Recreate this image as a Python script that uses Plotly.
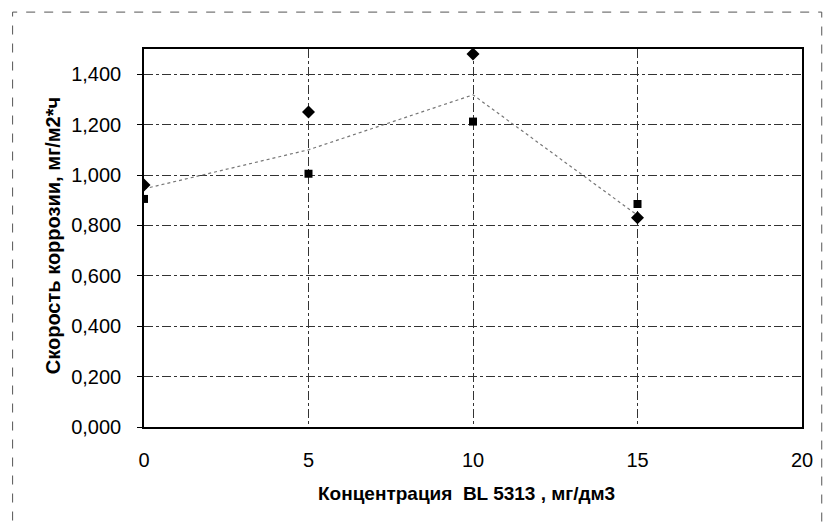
import plotly.graph_objects as go

conc = [0, 5, 10, 15]
series_a = [0.960, 1.250, 1.480, 0.830]   # diamonds
series_b = [0.905, 1.005, 1.212, 0.885]   # squares
trend = [0.945, 1.100, 1.318, 0.840]      # dotted line

y_ticks = [0, 0.2, 0.4, 0.6, 0.8, 1.0, 1.2, 1.4]
x_ticks = [0, 5, 10, 15, 20]

FONT = "Liberation Sans, Arial, sans-serif"

fig = go.Figure()
fig.add_trace(go.Scatter(x=conc, y=trend, mode="lines",
                         line=dict(color="#777777", width=1.2, dash="dot"),
                         showlegend=False))
fig.add_trace(go.Scatter(x=conc, y=series_b, mode="markers",
                         marker=dict(symbol="square", size=8, color="black"),
                         showlegend=False))
fig.add_trace(go.Scatter(x=conc, y=series_a, mode="markers",
                         marker=dict(symbol="diamond", size=10, color="black"),
                         showlegend=False))

fig.update_layout(
    width=825, height=523,
    margin=dict(l=144, r=12, t=49, b=96),
    paper_bgcolor="white", plot_bgcolor="white",
    separators=", ",
    font=dict(family=FONT, color="black"),
    xaxis=dict(range=[0, 20], tickvals=x_ticks, showgrid=True,
               gridcolor="#333333", griddash="dashdot", gridwidth=1,
               showline=True, linecolor="black", linewidth=1.5, mirror=True,
               ticks="", ticklabelstandoff=14, tickfont=dict(size=20),
               zeroline=False),
    yaxis=dict(range=[0, 1.5], tickvals=y_ticks, tickformat=".3f",
               showgrid=True, gridcolor="#333333", griddash="dashdot", gridwidth=1,
               showline=True, linecolor="black", linewidth=1.5, mirror=True,
               ticks="outside", ticklen=5, tickcolor="black",
               ticklabelstandoff=12,
               tickfont=dict(size=20), zeroline=False),
    shapes=[dict(type="rect", xref="paper", yref="paper",
                 x0=-0.1997, x1=1.03, y0=-0.3, y1=1.0976,
                 line=dict(color="#555555", width=1, dash="dash"),
                 layer="below")],
    annotations=[
        dict(text="<b>Скорость коррозии, мг/м2*ч</b>", xref="paper", yref="paper",
             x=-0.137, y=0.507, xanchor="center", yanchor="middle",
             textangle=-90, showarrow=False,
             font=dict(size=20, family=FONT)),
        dict(text="<b>Концентрация  BL 5313 , мг/дм3</b>", xref="paper", yref="paper",
             x=0.49, y=-0.177, xanchor="center", yanchor="middle",
             showarrow=False,
             font=dict(size=19, family=FONT)),
    ],
)

fig.write_html("out.html")
